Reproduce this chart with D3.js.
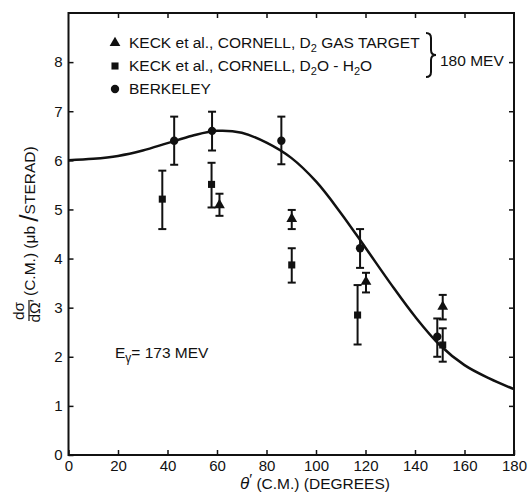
<!DOCTYPE html>
<meta charset="utf-8">
<style>
body { margin: 0; background: white; }
svg { background: white; font-family: "Liberation Sans", Arial, sans-serif; }
.axis path { display: none; }
.axis line { stroke: #111; stroke-width: 1.5px; }
.axis text { font-size: 15px; fill: #111; font-family: "Liberation Sans", Arial, sans-serif; }
.curve { fill: none; stroke: #111; stroke-width: 2.5px; }
.err { stroke: #111; stroke-width: 2px; }
.lbl { font-size: 15.5px; fill: #111; }
</style>
<svg width="530" height="495"></svg>
<script src="https://cdn.jsdelivr.net/npm/d3@7"></script>
<script>

// theory curve, every 10 degrees
var curveAngles = [0, 10, 20, 30, 40, 50, 60, 70, 80, 90, 100, 110, 120, 130, 140, 150, 160, 170, 180];
var curveValues = [6.0, 6.03, 6.09, 6.2, 6.35, 6.5, 6.6, 6.56, 6.36, 6.05, 5.57, 4.93, 4.22, 3.5, 2.82, 2.24, 1.83, 1.56, 1.34];

// Berkeley (circles)
var berkAngle = [42.7, 58, 86, 117.8, 149];
var berkValue = [6.4, 6.6, 6.4, 4.21, 2.41];
var berkLow   = [5.91, 6.2, 5.92, 3.81, 2.0];
var berkHigh  = [6.89, 6.99, 6.89, 4.6, 2.78];

// Keck et al., Cornell, D2O - H2O (squares)
var sqAngle = [37.9, 57.8, 90.2, 116.8, 151.2];
var sqValue = [5.21, 5.51, 3.87, 2.85, 2.24];
var sqLow   = [4.6, 5.04, 3.51, 2.25, 1.9];
var sqHigh  = [5.79, 5.95, 4.21, 3.46, 2.58];

// Keck et al., Cornell, D2 gas target (triangles)
var triAngle = [61, 90.2, 120.2, 151.2];
var triValue = [5.09, 4.81, 3.53, 3.02];
var triLow   = [4.87, 4.6, 3.31, 2.76];
var triHigh  = [5.32, 4.99, 3.71, 3.26];

var xTicks = [0, 20, 40, 60, 80, 100, 120, 140, 160, 180];
var yTicks = [0, 1, 2, 3, 4, 5, 6, 7, 8];

var svg = d3.select("svg");

var x = d3.scaleLinear().domain([0, 180]).range([68.5, 514]);
var y = d3.scaleLinear().domain([0, 9]).range([455, 13]);

// frame
svg.append("rect")
    .attr("x", x(0)).attr("y", y(9))
    .attr("width", x(180) - x(0)).attr("height", y(0) - y(9))
    .attr("fill", "none").attr("stroke", "#111").attr("stroke-width", 2);

svg.append("g").attr("class", "axis")
    .attr("transform", "translate(0," + y(0) + ")")
    .call(d3.axisBottom(x).tickValues(xTicks).tickSize(-5).tickPadding(5).tickFormat(d3.format("d")));

svg.append("g").attr("class", "axis")
    .attr("transform", "translate(0," + y(9) + ")")
    .call(d3.axisTop(x).tickValues(xTicks.slice(1, -1)).tickSize(-5).tickFormat(""));

svg.append("g").attr("class", "axis")
    .attr("transform", "translate(" + x(0) + ",0)")
    .call(d3.axisLeft(y).tickValues(yTicks).tickSize(-5).tickPadding(6).tickFormat(d3.format("d")));

svg.append("g").attr("class", "axis")
    .attr("transform", "translate(" + x(180) + ",0)")
    .call(d3.axisRight(y).tickValues(yTicks.slice(1)).tickSize(-5).tickFormat(""));

// theory curve
var line = d3.line()
    .curve(d3.curveCatmullRom.alpha(0.5))
    .x(function(d, i) { return x(curveAngles[i]); })
    .y(function(d) { return y(d); });

svg.append("path").attr("class", "curve").attr("d", line(curveValues));

function errorBars(angles, lows, highs) {
  var g = svg.append("g");
  angles.forEach(function(a, i) {
    var cx = x(a), y1 = y(lows[i]), y2 = y(highs[i]);
    g.append("line").attr("class", "err").attr("x1", cx).attr("x2", cx).attr("y1", y1).attr("y2", y2);
    g.append("line").attr("class", "err").attr("x1", cx - 4).attr("x2", cx + 4).attr("y1", y1).attr("y2", y1);
    g.append("line").attr("class", "err").attr("x1", cx - 4).attr("x2", cx + 4).attr("y1", y2).attr("y2", y2);
  });
}

errorBars(berkAngle, berkLow, berkHigh);
errorBars(sqAngle, sqLow, sqHigh);
errorBars(triAngle, triLow, triHigh);

var circleSym = d3.symbol().type(d3.symbolCircle).size(55);
var squareSym = d3.symbol().type(d3.symbolSquare).size(50);
var triSym = d3.symbol().type(d3.symbolTriangle).size(50);

function points(angles, values, sym) {
  svg.append("g").selectAll("path")
    .data(values)
    .enter().append("path")
      .attr("d", sym)
      .attr("fill", "#111")
      .attr("transform", function(d, i) { return "translate(" + x(angles[i]) + "," + y(d) + ")"; });
}

points(berkAngle, berkValue, circleSym);
points(sqAngle, sqValue, squareSym);
points(triAngle, triValue, triSym);

// legend
var legendRows = [
  {sym: triSym, y: 43},
  {sym: squareSym, y: 66},
  {sym: circleSym, y: 89}
];
legendRows.forEach(function(r) {
  svg.append("path").attr("d", r.sym).attr("fill", "#111")
    .attr("transform", "translate(115," + r.y + ")");
});

var t1 = svg.append("text").attr("class", "lbl").attr("x", 129).attr("y", 48);
t1.append("tspan").text("KECK et al., CORNELL, D");
t1.append("tspan").attr("dy", 4).attr("font-size", 11).text("2");
t1.append("tspan").attr("dy", -4).text(" GAS TARGET");

var t2 = svg.append("text").attr("class", "lbl").attr("x", 129).attr("y", 71);
t2.append("tspan").text("KECK et al., CORNELL, D");
t2.append("tspan").attr("dy", 4).attr("font-size", 11).text("2");
t2.append("tspan").attr("dy", -4).text("O - H");
t2.append("tspan").attr("dy", 4).attr("font-size", 11).text("2");
t2.append("tspan").attr("dy", -4).text("O");

svg.append("text").attr("class", "lbl").attr("x", 129).attr("y", 94).text("BERKELEY");

// brace
svg.append("path")
    .attr("d", "M426,33 Q431,33 431,38 L431,50 Q431,55 436,55 Q431,55 431,60 L431,72 Q431,77 426,77")
    .attr("fill", "none").attr("stroke", "#111").attr("stroke-width", 2);

svg.append("text").attr("class", "lbl").attr("x", 440).attr("y", 66).text("180 MEV");

// energy note
var e = svg.append("text").attr("class", "lbl").attr("x", 115).attr("y", 358);
e.append("tspan").text("E");
e.append("tspan").attr("dy", 4).attr("font-size", 12).text("γ");
e.append("tspan").attr("dy", -4).text("= 173 MEV");

// x axis title
var xt = svg.append("text").attr("class", "lbl").attr("x", 240).attr("y", 489);
xt.append("tspan").attr("font-style", "italic").attr("font-size", 17).text("θ");
xt.append("tspan").attr("dy", -5).text("′");
xt.append("tspan").attr("dy", 5).text(" (C.M.) (DEGREES)");

// y axis title, rotated
var yt = svg.append("g").attr("transform", "translate(30,322) rotate(-90)");
yt.append("text").attr("class", "lbl").attr("x", 11).attr("y", -6).attr("text-anchor", "middle")
    .attr("font-size", 13).text("dσ");
yt.append("line").attr("x1", 1).attr("x2", 22).attr("y1", -1).attr("y2", -1)
    .attr("stroke", "#111").attr("stroke-width", 1.2);
yt.append("text").attr("class", "lbl").attr("x", 11).attr("y", 10).attr("text-anchor", "middle")
    .attr("font-size", 13).text("dΩ′");
var yl = yt.append("text").attr("class", "lbl").attr("x", 26).attr("y", 5);
yl.append("tspan").text("(C.M.) (μb ");
yl.append("tspan").attr("font-size", 26).attr("dy", 3).text("/");
yl.append("tspan").attr("dy", -3).text("STERAD)");

</script>
